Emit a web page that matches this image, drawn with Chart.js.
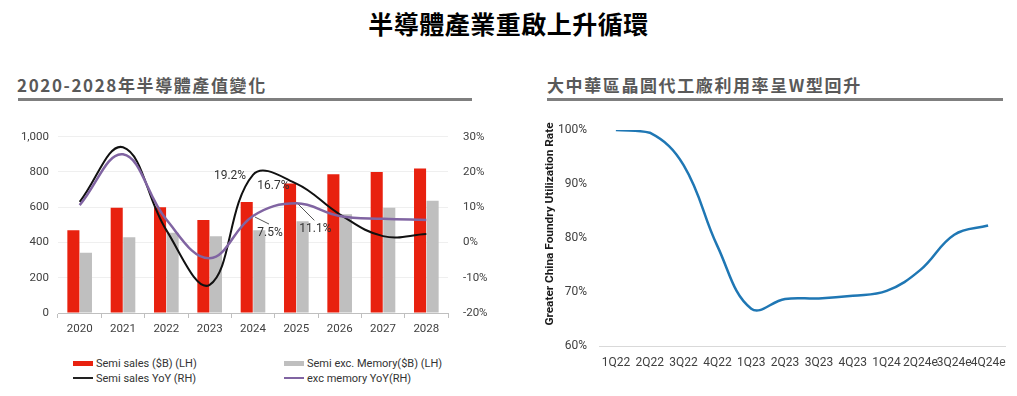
<!DOCTYPE html>
<html>
<head>
<meta charset="utf-8">
<script src="https://cdn.jsdelivr.net/npm/chart.js@4.4.1/dist/chart.umd.min.js"></script>
<style>
  html, body { margin: 0; padding: 0; background: #fff; }
  body { width: 1017px; height: 396px; position: relative; overflow: hidden; font-family: Roboto, "Noto Sans", sans-serif; }
  .main-title { position: absolute; left: 0; width: 1017px; top: 5px; text-align: center;
    font: bold 25px "Noto Sans CJK TC", sans-serif; color: #000; letter-spacing: 0.5px; }
  .sec-title { position: absolute; top: 72px; font: bold 17px "Noto Sans CJK TC", sans-serif;
    color: #595959; letter-spacing: 1.6px; }
  .sec-line { position: absolute; top: 98px; height: 3px; background: #7f7f7f; }
  canvas { position: absolute; }
  .legend { position: absolute; font-size: 11px; color: #333; }
  .legend .item { position: absolute; white-space: nowrap; line-height: 14px; }
  .legend .sw { display: inline-block; width: 20px; vertical-align: middle; margin-right: 3px; position: relative; top: -1px; }
  .ytitle { position: absolute; left: 549px; top: 225px; width: 240px; margin-left: -120px; margin-top: -8px;
    text-align: center; transform: rotate(-90deg); font: bold 11.8px Roboto, sans-serif; color: #1a1a1a; white-space: nowrap; }
</style>
</head>
<body>
<div class="main-title">半導體產業重啟上升循環</div>

<div class="sec-title" style="left:17px;">2020-2028年半導體產值變化</div>
<div class="sec-line" style="left:18px; width:454px;"></div>
<div class="sec-title" style="left:547px;">大中華區晶圓代工廠利用率呈W型回升</div>
<div class="sec-line" style="left:547px; width:456px;"></div>

<canvas id="semiChart" width="500" height="240" style="left:0; top:110px;"></canvas>
<canvas id="utilChart" width="487" height="260" style="left:530px; top:110px;"></canvas>
<div class="ytitle">Greater China Foundry Utilization Rate</div>

<div class="legend">
  <div class="item" style="left:73px; top:357px;"><span class="sw" style="height:5px; background:#e8210f;"></span>Semi sales ($B) (LH)</div>
  <div class="item" style="left:284px; top:357px;"><span class="sw" style="height:5px; background:#bfbfbf;"></span>Semi exc. Memory($B) (LH)</div>
  <div class="item" style="left:73px; top:372px;"><span class="sw" style="height:2px; background:#222;"></span>Semi sales YoY (RH)</div>
  <div class="item" style="left:284px; top:372px;"><span class="sw" style="height:2px; background:#8064a2;"></span>exc memory YoY(RH)</div>
</div>

<script>
// left chart data
const years = ['2020', '2021', '2022', '2023', '2024', '2025', '2026', '2027', '2028'];
const semiSales = [470, 597, 600, 527, 630, 734, 787, 800, 819];
const semiExcMemory = [342, 430, 455, 436, 470, 521, 560, 597, 636];
const semiSalesYoY = [11.5, 27, 3.5, -12, 19.2, 16.7, 8, 1.8, 2.4];
const excMemoryYoY = [10.6, 25, 6.5, -4.5, 7.5, 11.1, 7.5, 6.7, 6.4];

// right chart data
const quarters = ['1Q22', '2Q22', '3Q22', '4Q22', '1Q23', '2Q23', '3Q23', '4Q23', '1Q24', '2Q24e', '3Q24e', '4Q24e'];
const utilRate = [100, 99.5, 93.5, 78.5, 66.9, 68.7, 68.8, 69.3, 70.2, 74.1, 80.6, 82.3];

// callouts on the YoY lines: [datasetIndex, pointIndex, text, dx, dy, leader]
const callouts = [
  [2, 4, '19.2%', -23, 1, false],
  [2, 5, '16.7%', -23, 2, false],
  [3, 4, '7.5%', 17, 17, true],
  [3, 5, '11.1%', 19, 26, true]
];

Chart.defaults.font.family = 'Roboto, "Noto Sans", sans-serif';
Chart.defaults.color = '#404040';

const calloutPlugin = {
  id: 'callouts',
  afterDatasetsDraw(chart) {
    const ctx = chart.ctx;
    ctx.save();
    ctx.font = '12px Roboto, sans-serif';
    ctx.fillStyle = '#333';
    ctx.textAlign = 'center';
    ctx.textBaseline = 'middle';
    callouts.forEach(c => {
      const pt = chart.getDatasetMeta(c[0]).data[c[1]];
      const lx = pt.x + c[3];
      const ly = pt.y + c[4];
      if (c[5]) {
        ctx.strokeStyle = '#555';
        ctx.lineWidth = 1;
        ctx.beginPath();
        ctx.moveTo(pt.x + 2, pt.y + 1);
        ctx.lineTo(lx - 1, ly - 9);
        ctx.stroke();
      }
      ctx.fillText(c[2], lx, ly);
    });
    ctx.restore();
  }
};

new Chart(document.getElementById('semiChart'), {
  type: 'bar',
  data: {
    labels: years,
    datasets: [
      { type: 'bar', label: 'Semi sales ($B) (LH)', data: semiSales, backgroundColor: '#e8210f',
        yAxisID: 'y', order: 2, categoryPercentage: 0.58, barPercentage: 0.96 },
      { type: 'bar', label: 'Semi exc. Memory($B) (LH)', data: semiExcMemory, backgroundColor: '#bfbfbf',
        yAxisID: 'y', order: 2, categoryPercentage: 0.58, barPercentage: 0.96 },
      { type: 'line', label: 'Semi sales YoY (RH)', data: semiSalesYoY, borderColor: '#111',
        borderWidth: 2, tension: 0.4, pointRadius: 0, yAxisID: 'y1', order: 1 },
      { type: 'line', label: 'exc memory YoY(RH)', data: excMemoryYoY, borderColor: '#8064a2',
        borderWidth: 2.5, tension: 0.4, pointRadius: 0, yAxisID: 'y1', order: 0 }
    ]
  },
  options: {
    responsive: false,
    animation: false,
    layout: { padding: { top: 26.7, left: 0, right: 0, bottom: 0 } },
    plugins: { legend: { display: false }, tooltip: { enabled: false } },
    scales: {
      x: {
        grid: { drawOnChartArea: false, drawTicks: true, tickLength: 5, color: '#bfbfbf' },
        border: { color: '#bfbfbf' },
        ticks: { padding: 4, font: { size: 11.5 }, autoSkip: false, maxRotation: 0 },
        afterFit(scale) { scale.height = 37; }
      },
      y: {
        position: 'left', min: 0, max: 1000,
        grid: { color: '#efefef', drawTicks: false },
        border: { display: false },
        ticks: { stepSize: 200, padding: 9, font: { size: 11.5 } },
        afterFit(scale) { scale.width = 58; }
      },
      y1: {
        position: 'right', min: -20, max: 30,
        grid: { drawOnChartArea: false, drawTicks: false },
        border: { display: false },
        ticks: { stepSize: 10, padding: 15, font: { size: 11.5 }, callback: v => v + '%' },
        afterFit(scale) { scale.width = 52; }
      }
    }
  },
  plugins: [calloutPlugin]
});

new Chart(document.getElementById('utilChart'), {
  type: 'line',
  data: {
    labels: quarters,
    datasets: [{
      label: 'Greater China Foundry Utilization Rate',
      data: utilRate,
      borderColor: '#1f77b4',
      borderWidth: 2.5,
      tension: 0.4,
      pointRadius: 0
    }]
  },
  options: {
    responsive: false,
    animation: false,
    layout: { padding: { top: 20, right: 12, left: 0, bottom: 0 } },
    plugins: { legend: { display: false }, tooltip: { enabled: false } },
    scales: {
      x: {
        offset: true,
        grid: { display: false, drawTicks: false },
        border: { color: '#d9d9d9' },
        ticks: { padding: 10, font: { size: 12 }, autoSkip: false, maxRotation: 0 },
        afterFit(scale) { scale.height = 24; }
      },
      y: {
        min: 60, max: 100,
        grid: { display: false, drawTicks: false },
        border: { display: false },
        ticks: { stepSize: 10, padding: 12, font: { size: 12 }, callback: v => v + '%' },
        afterFit(scale) { scale.width = 69; }
      }
    }
  }
});
</script>
</body>
</html>
